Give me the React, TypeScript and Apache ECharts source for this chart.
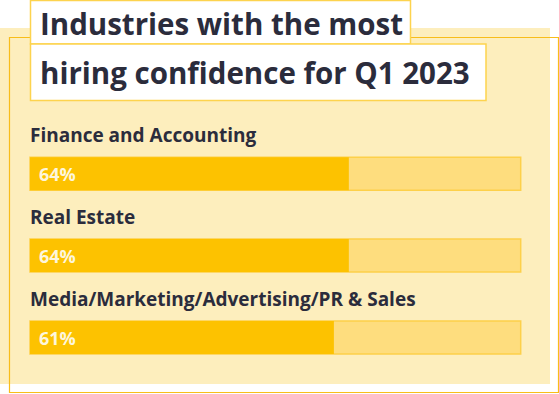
import React, { useEffect, useRef } from "react";
import * as echarts from "echarts";

const industries = [
  "Finance and Accounting",
  "Real Estate",
  "Media/Marketing/Advertising/PR & Sales",
];
const confidence = [64, 64, 61];
const titleLines = ["Industries with the most", "hiring confidence for Q1 2023"];

const FONT = "'Open Sans', Lato, sans-serif";
const DARK = "#2b2c3c";

export default function App() {
  const ref = useRef<HTMLDivElement>(null);
  useEffect(() => {
    if (!ref.current) return;
    const chart = echarts.init(ref.current, undefined, { renderer: "svg" });
    chart.setOption({
      animation: false,
      backgroundColor: "#ffffff",
      grid: { left: 30, right: 38.3, top: 132.7, bottom: 15.5, containLabel: false },
      xAxis: { type: "value", min: 0, max: 98.5, show: false },
      yAxis: {
        type: "category",
        data: industries,
        inverse: true,
        axisLine: { show: false },
        axisTick: { show: false },
        splitLine: { show: false },
        axisLabel: {
          inside: true,
          margin: 0,
          align: "left",
          verticalAlign: "bottom",
          padding: [0, 0, 29, 0],
          fontFamily: FONT,
          fontWeight: "bold",
          fontSize: 19,
          lineHeight: 19,
          color: DARK,
        },
        z: 5,
      },
      series: [
        {
          type: "bar",
          data: confidence,
          barWidth: 33,
          itemStyle: { color: "#fdc200" },
          showBackground: true,
          backgroundStyle: {
            color: "#fedd7e",
            borderColor: "#fdd04a",
            borderWidth: 1.5,
          },
          label: {
            show: true,
            position: "insideLeft",
            distance: 9,
            formatter: "{c}%",
            fontFamily: FONT,
            fontWeight: "bold",
            fontSize: 18,
            color: "#fdf6dc",
          },
        },
      ],
      graphic: [
        {
          type: "rect",
          z: -10,
          shape: { x: 0, y: 28, width: 550, height: 356 },
          style: { fill: "#fdeebd" },
        },
        {
          type: "rect",
          z: -5,
          shape: { x: 9.5, y: 37.5, width: 549, height: 355 },
          style: { fill: "none", stroke: "#f8bd1a", lineWidth: 1.2 },
        },
        {
          type: "rect",
          z: 50,
          shape: { x: 30.5, y: 0.5, width: 380, height: 43.5 },
          style: { fill: "#ffffff", stroke: "#fdd34e", lineWidth: 1.5 },
        },
        {
          type: "rect",
          z: 50,
          shape: { x: 30.5, y: 44, width: 455.5, height: 56.5 },
          style: { fill: "#ffffff", stroke: "#fdd34e", lineWidth: 1.5 },
        },
        {
          type: "text",
          z: 60,
          x: 40,
          y: 23.5,
          style: {
            text: titleLines[0],
            fontFamily: FONT,
            fontWeight: "bold",
            fontSize: 29.5,
            fill: DARK,
            verticalAlign: "middle",
            align: "left",
          },
        },
        {
          type: "text",
          z: 60,
          x: 40,
          y: 72.5,
          style: {
            text: titleLines[1],
            fontFamily: FONT,
            fontWeight: "bold",
            fontSize: 29.5,
            fill: DARK,
            verticalAlign: "middle",
            align: "left",
          },
        },
      ],
    });
    return () => chart.dispose();
  }, []);
  return (
    <div
      ref={ref}
      style={{ position: "fixed", left: 0, top: 0, width: 559, height: 394 }}
    />
  );
}
